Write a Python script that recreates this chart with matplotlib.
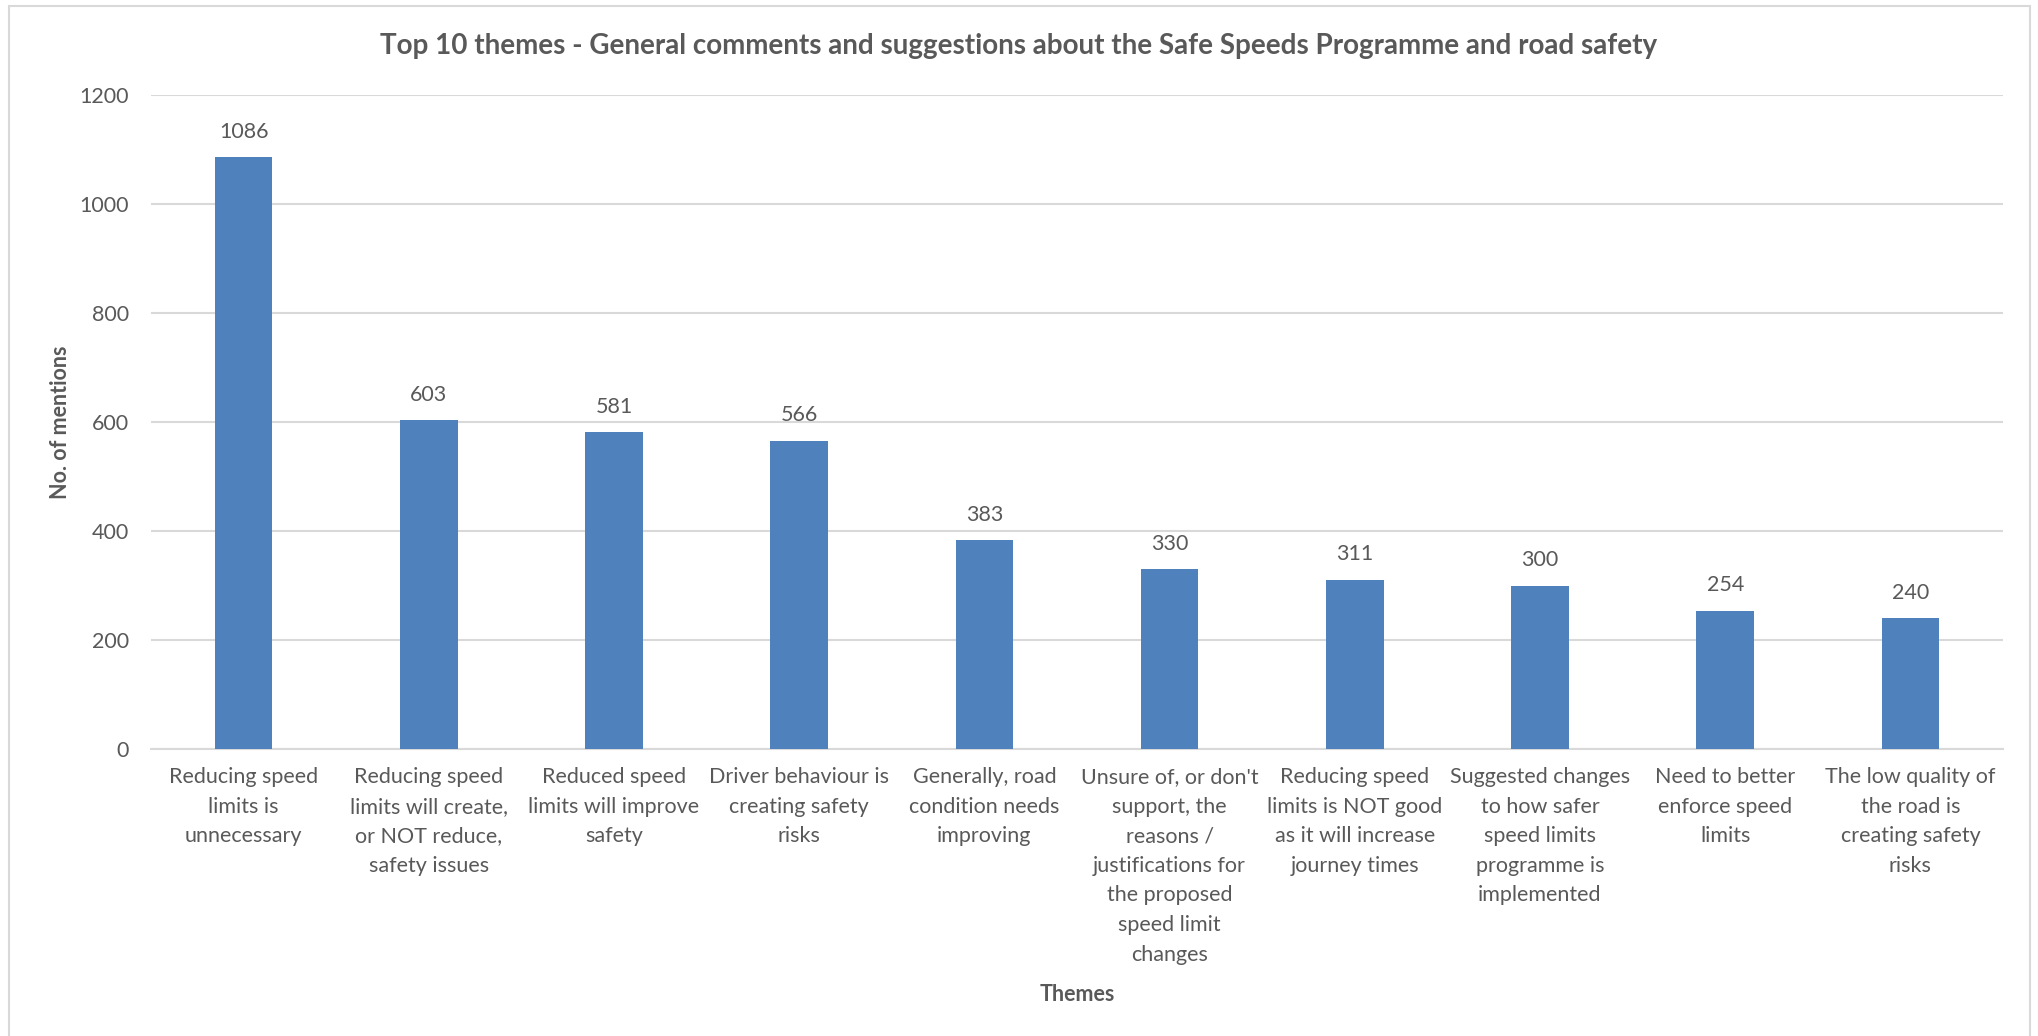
import matplotlib.pyplot as plt
from matplotlib.patches import Rectangle

# Data
themes = [
    'Reducing speed\nlimits is\nunnecessary',
    'Reducing speed\nlimits will create,\nor NOT reduce,\nsafety issues',
    'Reduced speed\nlimits will improve\nsafety',
    'Driver behaviour is\ncreating safety\nrisks',
    'Generally, road\ncondition needs\nimproving',
    "Unsure of, or don't\nsupport, the\nreasons /\njustifications for\nthe proposed\nspeed limit\nchanges",
    'Reducing speed\nlimits is NOT good\nas it will increase\njourney times',
    'Suggested changes\nto how safer\nspeed limits\nprogramme is\nimplemented',
    'Need to better\nenforce speed\nlimits',
    'The low quality of\nthe road is\ncreating safety\nrisks',
]
mentions = [1086, 603, 581, 566, 383, 330, 311, 300, 254, 240]
y_ticks = [0, 200, 400, 600, 800, 1000, 1200]

text_color = '#595959'
bar_color = '#4f81bd'
grid_color = '#d9d9d9'

plt.rcParams['font.family'] = ['Lato', 'DejaVu Sans']

fig = plt.figure(figsize=(20.38, 10.36), dpi=100)
ax = fig.add_axes([151 / 2038, 1 - 749 / 1036, 1852 / 2038, 654 / 1036])

x = list(range(len(themes)))
bars = ax.bar(x, mentions, width=0.31, color=bar_color, zorder=3)
ax.bar_label(bars, labels=[str(v) for v in mentions], padding=11,
             fontsize=15.5, color=text_color)

ax.set_xlim(-0.5, len(themes) - 0.5)
ax.set_ylim(0, 1200)
ax.set_yticks(y_ticks)
ax.set_xticks(x)
ax.set_xticklabels(themes, fontsize=15.5, color=text_color, linespacing=1.6)
ax.tick_params(axis='y', labelsize=15.5, labelcolor=text_color, length=0,
               pad=16)
ax.tick_params(axis='x', length=0, pad=13)
ax.grid(axis='y', color=grid_color, linewidth=1.5, zorder=0)

for side in ['top', 'right', 'left']:
    ax.spines[side].set_visible(False)
ax.spines['bottom'].set_color(grid_color)
ax.spines['bottom'].set_linewidth(1.5)

ax.set_xlabel('Themes', fontsize=15.5, fontweight='bold', color=text_color,
              labelpad=14)
ax.set_ylabel('No. of mentions', fontsize=15.5, fontweight='bold',
              color=text_color, labelpad=6)

fig.text(0.5, 1 - 46 / 1036,
         'Top 10 themes - General comments and suggestions about the Safe '
         'Speeds Programme and road safety',
         ha='center', va='center', fontsize=20, fontweight='bold',
         color=text_color)

# Chart frame
fig.patches.append(Rectangle((9 / 2038, -0.05), 2021 / 2038, 1.05 - 6 / 1036,
                             transform=fig.transFigure, fill=False,
                             edgecolor=grid_color, linewidth=1.5))

fig.savefig('out.png', dpi=100)
